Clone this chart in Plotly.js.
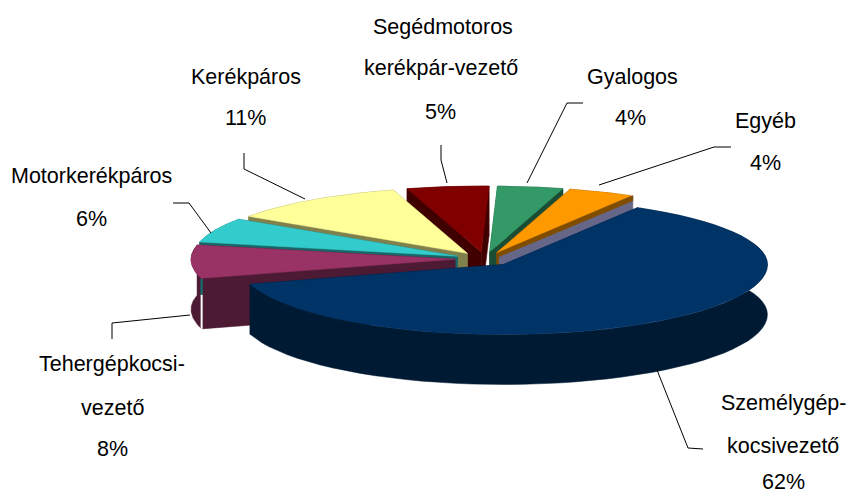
<!DOCTYPE html>
<html>
<head>
<meta charset="utf-8">
<script src="https://cdn.plot.ly/plotly-3.0.1.min.js"></script>
<style>html,body{margin:0;padding:0;background:#fff}#c{width:847px;height:495px}</style>
</head>
<body>
<div id="c"></div>
<script>
// Data, clockwise from the top-right edge of the largest slice
var categories = ["Személygépkocsivezető","Tehergépkocsi-vezető","Motorkerékpáros","Kerékpáros","Segédmotoros kerékpár-vezető","Gyalogos","Egyéb"];
var shares = [62, 8, 6, 11, 5, 4, 4];
var topColors = ["#003366","#993366","#33CCCC","#FFFF99","#800000","#339966","#FF9900"];
var wallColors = ["#001A33","#4D1A33","#1A6666","#80804D","#400000","#1A4D33","#804D00"];
var labelText = ["Személygép-","kocsivezető","62%","Tehergépkocsi-","vezető","8%","Motorkerékpáros","6%","Kerékpáros","11%","Segédmotoros","kerékpár-vezető","5%","Gyalogos","4%","Egyéb","4%"];

// Projection of the tilted pie
var cx = 485, cy = 259, rx = 264, ryBack = 66, ryFront = 70, depth = 50;
var explodeX = 30, explodeY = 7, startDeg = 30.5;
var FONT = "Liberation Sans, Arial, sans-serif";
var FSIZE = 21.5;

var rad = Math.PI / 180;
function ry(t) { return Math.cos(t * rad) > 0 ? ryBack : ryFront; }
function poly(xs, ys, fill) {
  return {type:"scatter", mode:"lines", x:xs.concat([xs[0]]), y:ys.concat([ys[0]]),
          fill:"toself", fillcolor:fill, line:{color:fill, width:0.5}, hoverinfo:"skip", showlegend:false};
}

var total = shares.reduce(function(a,b){return a+b;}, 0);
var acc = 0;
var slices = shares.map(function(v, i) {
  var a0 = startDeg + acc / total * 360;
  acc += v;
  var a1 = startDeg + acc / total * 360;
  var mid = (a0 + a1) / 2;
  var ax = cx + explodeX * Math.sin(mid * rad);
  var ay = cy - explodeY * Math.cos(mid * rad);
  var arcX = [], arcY = [];
  for (var k = 0; k <= 60; k++) {
    var t = a0 + (a1 - a0) * k / 60;
    arcX.push(ax + rx * Math.sin(t * rad));
    arcY.push(ay - ry(t) * Math.cos(t * rad));
  }
  return {i:i, ax:ax, ay:ay, arcX:arcX, arcY:arcY};
});
function down(arr, d) { return arr.map(function(y){return y + d;}); }

function sliceTraces(s) {
  var out = [], n = s.arcX.length - 1, wall = wallColors[s.i];
  // outer wall
  out.push(poly(s.arcX.concat(s.arcX.slice().reverse()), s.arcY.concat(down(s.arcY, depth).reverse()), wall));
  // radial walls
  [[s.arcX[0], s.arcY[0]], [s.arcX[n], s.arcY[n]]].forEach(function(p) {
    out.push(poly([s.ax, p[0], p[0], s.ax], [s.ay, p[1], p[1] + depth, s.ay + depth], wall));
  });
  // Orange slice: slate lower band on its cut face with a thin brown upper strip
  if (s.i === 6) {
    var p = [s.arcX[n], s.arcY[n]];
    out.push(poly([s.ax + 2, p[0] + 2, p[0] + 2, s.ax + 2], [s.ay, p[1], p[1] + depth, s.ay + depth], "#666688"));
    out.push(poly([s.ax, p[0] + 2, p[0] + 2, s.ax], [s.ay, p[1], p[1] + 5, s.ay + 5], wall));
    out.push(poly([s.ax, s.ax + 1.5, s.ax + 1.5, s.ax], [s.ay, s.ay, s.ay + depth, s.ay + depth], wall));
  }
  // small gap where the purple slice's two walls meet
  if (s.i === 1) {
    var x0 = s.arcX[0], y0 = s.arcY[0];
    out.push({type:"scatter", mode:"lines", x:[x0, x0], y:[y0, y0 + 16], line:{color:"#1A6666", width:2.5}, hoverinfo:"skip", showlegend:false});
    out.push({type:"scatter", mode:"lines", x:[x0, x0], y:[y0 + 16, y0 + depth], line:{color:"#FFFFFF", width:2}, hoverinfo:"skip", showlegend:false});
  }
  // top face
  out.push(poly([s.ax].concat(s.arcX), [s.ay].concat(s.arcY), topColors[s.i]));
  return out;
}

// Back to front
var order = [4, 5, 6, 3, 2, 1, 0];
var traces = [];
order.forEach(function(i) { traces = traces.concat(sliceTraces(slices[i])); });

// Label placement (centre x, centre y), one per text line
var labelX = [783,783,783, 112,112,112, 91,91, 246,245, 443,441,440, 632,630, 765,765];
var labelY = [403,446,482, 364,408,449, 176,219, 77,118, 27,68,112, 77,118, 121,163];
var annotations = labelText.map(function(t, i) {
  return {text:t, x:labelX[i], y:labelY[i], xref:"x", yref:"y", showarrow:false,
          xanchor:"center", yanchor:"middle", font:{family:FONT, size:FSIZE, color:"#000"}};
});

var leaderPaths = [
  "M657,370 L688,448 L703,449",
  "M112,339 L112,323 L190,315",
  "M173,203 L189,203 L211,233",
  "M244,153 L244,169 L305,199",
  "M441,145 L441,160 L447,183",
  "M583,103 L567,103 L527,183",
  "M731,147 L714,147 L599,185"
];
var shapes = leaderPaths.map(function(p) {
  return {type:"path", path:p, xref:"x", yref:"y", line:{color:"#000", width:1}, layer:"above"};
});

var layout = {
  width:847, height:495, margin:{l:0,r:0,t:0,b:0},
  paper_bgcolor:"#fff", plot_bgcolor:"#fff", showlegend:false,
  xaxis:{range:[0,847], visible:false, fixedrange:true},
  yaxis:{range:[495,0], visible:false, fixedrange:true},
  annotations:annotations, shapes:shapes
};
Plotly.newPlot("c", traces, layout, {staticPlot:true, displayModeBar:false});
</script>
</body>
</html>
